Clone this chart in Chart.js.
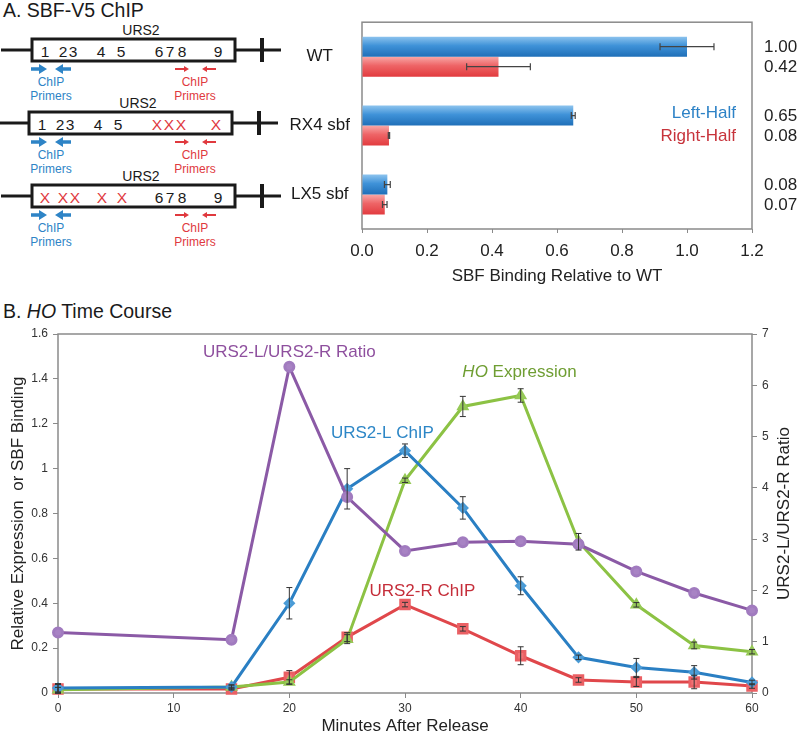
<!DOCTYPE html>
<html>
<head>
<meta charset="utf-8">
<script src="https://cdn.jsdelivr.net/npm/chart.js@4.4.1/dist/chart.umd.min.js"></script>
<style>
  html, body { margin: 0; padding: 0; background: #fff; }
  #page { position: relative; width: 800px; height: 735px; overflow: hidden; font-family: "Liberation Sans", Arial, sans-serif; color: #1a1a1a; }
  .panelTitle { position: absolute; left: 3px; font-size: 19.5px; line-height: 1; white-space: nowrap; }
  #diagram { position: absolute; left: 0; top: 0; }
  #barBox { position: absolute; left: 280px; top: 0; width: 520px; height: 290px; }
  #lineBox { position: absolute; left: 0; top: 320px; width: 800px; height: 415px; }
</style>
</head>
<body>
<div id="page">
  <div class="panelTitle" style="top:1px">A. SBF-V5 ChIP</div>
  <svg id="diagram" width="290" height="260" xmlns="http://www.w3.org/2000/svg"></svg>
  <div id="barBox"><canvas id="barChart"></canvas></div>
  <div class="panelTitle" style="top:302px">B. <i>HO</i> Time Course</div>
  <div id="lineBox"><canvas id="lineChart"></canvas></div>
</div>
<script>
// ---- panel A data
var strains = ['WT', 'RX4 sbf', 'LX5 sbf'];
var leftHalf = [1.00, 0.65, 0.078];
var leftHalfErr = [0.083, 0.006, 0.009];
var rightHalf = [0.42, 0.083, 0.07];
var rightHalfErr = [0.098, 0.002, 0.007];
var bindingTicks = [0, 0.2, 0.4, 0.6, 0.8, 1.0, 1.2];

// ---- panel B data
var minutes = [0, 15, 20, 25, 30, 35, 40, 45, 50, 55, 60];
var ratioLR = [1.18, 1.04, 6.36, 3.82, 2.77, 2.94, 2.96, 2.90, 2.37, 1.95, 1.61];
var urs2L = [0.022, 0.027, 0.40, 0.91, 1.08, 0.825, 0.478, 0.159, 0.114, 0.092, 0.047];
var urs2LErr = [0.02, 0.01, 0.07, 0.09, 0.03, 0.05, 0.04, 0.01, 0.04, 0.03, 0.01];
var urs2R = [0.018, 0.018, 0.07, 0.249, 0.394, 0.286, 0.166, 0.058, 0.049, 0.049, 0.031];
var urs2RErr = [0.02, 0.005, 0.03, 0.02, 0.01, 0.01, 0.04, 0.01, 0.02, 0.03, 0.01];
var hoExpr = [0.015, 0.027, 0.049, 0.24, 0.948, 1.277, 1.326, 0.674, 0.393, 0.212, 0.184];
var hoExprErr = [0.01, 0.005, 0.01, 0.02, 0.01, 0.045, 0.03, 0.037, 0.01, 0.015, 0.01];

var FONT = '"Liberation Sans", Arial, sans-serif';
Chart.defaults.font.family = FONT;
Chart.defaults.color = '#222';

var BLUE = '#2a7fc3', RED = '#e0474b', GREEN = '#8cc244', PURPLE = '#8b5aa6';
var AXIS_GRAY = '#8a8a8a';

// ---- schematic of URS2 (left part of panel A)
var svg = document.getElementById('diagram');
function el(name, attrs, text) {
    var e = document.createElementNS('http://www.w3.org/2000/svg', name);
    for (var k in attrs) e.setAttribute(k, attrs[k]);
    if (text) e.textContent = text;
    svg.appendChild(e);
    return e;
}
function arrow(x0, x1, y, shaft, head, headLen, color) {
    var dir = x1 > x0 ? 1 : -1;
    var hb = x1 - dir * headLen;
    var pts = [[x0, y - shaft / 2], [hb, y - shaft / 2], [hb, y - head], [x1, y], [hb, y + head], [hb, y + shaft / 2], [x0, y + shaft / 2]];
    el('polygon', {points: pts.map(function(p) { return p.join(','); }).join(' '), fill: color});
}
var siteBlack = '#1a1a1a', siteRed = '#e0393e', primerBlue = '#2e84c6', primerRed = '#e0393e';
var rows = [
    {dy: 0, dx: 0, sites: [['1', 45], ['2', 63], ['3', 73], ['4', 101], ['5', 121], ['6', 159], ['7', 170], ['8', 182], ['9', 218]]},
    {dy: 73, dx: -3, sites: [['1', 45], ['2', 63], ['3', 73], ['4', 101], ['5', 121], ['X', 160, 1], ['X', 172, 1], ['X', 184, 1], ['X', 219, 1]]},
    {dy: 146, dx: 0, sites: [['X', 45, 1], ['X', 63, 1], ['X', 75, 1], ['X', 102, 1], ['X', 122, 1], ['6', 159], ['7', 170], ['8', 182], ['9', 218]]}
];
rows.forEach(function(r) {
    var y = 50 + r.dy, dx = r.dx;
    el('text', {x: 141 + dx, y: y - 20, 'font-size': 14, 'text-anchor': 'middle', 'dominant-baseline': 'central', 'font-family': FONT, fill: siteBlack}, 'URS2');
    el('line', {x1: 1 + dx, y1: y, x2: 32 + dx, y2: y, stroke: siteBlack, 'stroke-width': 3});
    el('line', {x1: 235 + dx, y1: y, x2: 281 + dx, y2: y, stroke: siteBlack, 'stroke-width': 3});
    el('line', {x1: 262 + dx, y1: y - 12, x2: 262 + dx, y2: y + 12, stroke: siteBlack, 'stroke-width': 4});
    el('rect', {x: 32 + dx, y: y - 11, width: 203, height: 22, fill: '#fff', stroke: siteBlack, 'stroke-width': 3});
    r.sites.forEach(function(s) {
        el('text', {x: s[1] + dx, y: y + 1, 'font-size': 15.5, 'text-anchor': 'middle', 'dominant-baseline': 'central', 'font-family': FONT, fill: s[2] ? siteRed : siteBlack}, s[0]);
    });
    var ay = y + 19;
    arrow(31, 47, ay, 3.5, 5, 8, primerBlue);
    arrow(71, 55, ay, 3.5, 5, 8, primerBlue);
    arrow(175, 189, ay, 2, 3, 5, primerRed);
    arrow(216, 202, ay, 2, 3, 5, primerRed);
    [['ChIP', 32], ['Primers', 46]].forEach(function(t) {
        el('text', {x: 51, y: y + t[1], 'font-size': 12, 'text-anchor': 'middle', 'dominant-baseline': 'central', 'font-family': FONT, fill: primerBlue}, t[0]);
        el('text', {x: 195, y: y + t[1], 'font-size': 12, 'text-anchor': 'middle', 'dominant-baseline': 'central', 'font-family': FONT, fill: primerRed}, t[0]);
    });
});

// ---- shared plugins
var framePlugin = {
    id: 'frame',
    beforeDatasetsDraw: function(chart) {
        var a = chart.chartArea, c = chart.ctx;
        c.save();
        c.strokeStyle = AXIS_GRAY;
        c.lineWidth = 1.5;
        c.strokeRect(a.left, a.top, a.right - a.left, a.bottom - a.top);
        c.restore();
    }
};

function barGradient(light, mid, dark) {
    return function(ctx) {
        var chart = ctx.chart, ys = chart.scales.y;
        if (!ys || !chart.chartArea) return mid;
        var thick = ys.height / strains.length * 0.58 / 2;
        var center = ys.getPixelForValue(ctx.dataIndex);
        var top = ctx.datasetIndex === 0 ? center - thick : center;
        var g = chart.ctx.createLinearGradient(0, top, 0, top + thick);
        g.addColorStop(0, light);
        g.addColorStop(0.45, mid);
        g.addColorStop(1, dark);
        return g;
    };
}

var barExtras = {
    id: 'barExtras',
    afterDatasetsDraw: function(chart) {
        var c = chart.ctx, xs = chart.scales.x, ys = chart.scales.y, a = chart.chartArea;
        c.save();
        chart.data.datasets.forEach(function(ds, di) {
            var meta = chart.getDatasetMeta(di);
            meta.data.forEach(function(bar, i) {
                var v = ds.data[i], e = ds.errors[i];
                var x0 = xs.getPixelForValue(v - e), x1 = xs.getPixelForValue(v + e);
                c.strokeStyle = '#444';
                c.lineWidth = 1.2;
                c.beginPath();
                c.moveTo(x0, bar.y); c.lineTo(x1, bar.y);
                c.moveTo(x0, bar.y - 3.5); c.lineTo(x0, bar.y + 3.5);
                c.moveTo(x1, bar.y - 3.5); c.lineTo(x1, bar.y + 3.5);
                c.stroke();
                // value label at right of the frame
                c.fillStyle = '#222';
                c.font = '17px ' + FONT;
                c.textAlign = 'left';
                c.textBaseline = 'middle';
                c.fillText(v.toFixed(2), a.right + 12, bar.y + 1);
            });
        });
        // series names inside the plot
        var mid = ys.getPixelForValue(1);
        c.font = '17px ' + FONT;
        c.textAlign = 'right';
        c.fillStyle = '#2d82c6';
        c.fillText(chart.data.datasets[0].label, a.right - 16, mid - 12);
        c.fillStyle = '#c7333b';
        c.fillText(chart.data.datasets[1].label, a.right - 16, mid + 11);
        c.restore();
    }
};

var barChart = new Chart(document.getElementById('barChart'), {
    type: 'bar',
    data: {
        labels: strains,
        datasets: [{
            label: 'Left-Half',
            data: leftHalf,
            errors: leftHalfErr,
            backgroundColor: barGradient('#8cc3ee', '#3f92d8', '#1f6fb8')
        }, {
            label: 'Right-Half',
            data: rightHalf,
            errors: rightHalfErr,
            backgroundColor: barGradient('#f8a7a6', '#ee6466', '#e23b3f')
        }]
    },
    options: {
        indexAxis: 'y',
        responsive: true,
        maintainAspectRatio: false,
        animation: false,
        categoryPercentage: 0.58,
        barPercentage: 1.0,
        layout: {padding: {top: 13, right: 48, left: 0, bottom: 0}},
        plugins: {legend: {display: false}, tooltip: {enabled: false}},
        scales: {
            x: {
                type: 'linear',
                min: 0,
                max: 1.2,
                afterBuildTicks: function(s) { s.ticks = bindingTicks.map(function(v) { return {value: v}; }); },
                afterFit: function(s) { s.height = 61; },
                grid: {drawOnChartArea: false, drawTicks: true, tickLength: 4, color: AXIS_GRAY},
                border: {display: false},
                ticks: {
                    padding: 8,
                    color: '#222',
                    font: {size: 17},
                    callback: function(v) { return v.toFixed(1); }
                },
                title: {display: true, text: 'SBF Binding Relative to WT', font: {size: 17}, color: '#222', padding: {top: 0, bottom: 3}}
            },
            y: {
                afterFit: function(s) { s.width = 82; },
                grid: {display: false, drawTicks: false},
                border: {display: false},
                ticks: {crossAlign: 'center', padding: 12, color: '#1a1a1a', font: {size: 17}}
            }
        }
    },
    plugins: [framePlugin, barExtras]
});

// ---- panel B
var notes = [
    {parts: [['URS2-L/URS2-R Ratio', '']], x: 20, y: 1.517, color: '#8e4f9e'},
    {parts: [['URS2-L ChIP', '']], x: 28.05, y: 1.157, color: '#2c86c6'},
    {parts: [['HO', 'italic '], [' Expression', '']], x: 39.9, y: 1.428, color: '#6f9e33'},
    {parts: [['URS2-R ChIP', '']], x: 31.5, y: 0.455, color: '#c52e3a'}
];

var lineExtras = {
    id: 'lineExtras',
    afterDatasetsDraw: function(chart) {
        var c = chart.ctx, ys = chart.scales.y, a = chart.chartArea;
        c.save();
        // error bars
        chart.data.datasets.forEach(function(ds, di) {
            if (!ds.errors) return;
            var meta = chart.getDatasetMeta(di);
            meta.data.forEach(function(pt, i) {
                var v = ds.data[i], e = ds.errors[i];
                var y0 = ys.getPixelForValue(v - e), y1 = ys.getPixelForValue(v + e);
                c.strokeStyle = '#333';
                c.lineWidth = 1;
                c.beginPath();
                c.moveTo(pt.x, y0); c.lineTo(pt.x, y1);
                c.moveTo(pt.x - 3, y0); c.lineTo(pt.x + 3, y0);
                c.moveTo(pt.x - 3, y1); c.lineTo(pt.x + 3, y1);
                c.stroke();
            });
        });
        // series annotations
        var xs = chart.scales.x;
        c.textBaseline = 'middle';
        c.textAlign = 'left';
        notes.forEach(function(n) {
            var w = 0;
            n.parts.forEach(function(p) { c.font = p[1] + '17px ' + FONT; w += c.measureText(p[0]).width; });
            var x = xs.getPixelForValue(n.x) - w / 2, y = ys.getPixelForValue(n.y);
            c.fillStyle = n.color;
            n.parts.forEach(function(p) {
                c.font = p[1] + '17px ' + FONT;
                c.fillText(p[0], x, y);
                x += c.measureText(p[0]).width;
            });
        });
        // right axis title, reading upward
        c.translate(784, (a.top + a.bottom) / 2);
        c.rotate(-Math.PI / 2);
        c.textAlign = 'center';
        c.fillStyle = '#222';
        c.font = '17px ' + FONT;
        c.fillText('URS2-L/URS2-R Ratio', 0, 0);
        c.restore();
    }
};

var lineChart = new Chart(document.getElementById('lineChart'), {
    type: 'line',
    data: {
        labels: minutes,
        datasets: [{
            label: 'URS2-L/URS2-R Ratio',
            data: ratioLR,
            yAxisID: 'y1',
            borderColor: PURPLE,
            backgroundColor: '#a67fc2',
            pointBackgroundColor: '#a883c4',
            pointBorderColor: '#a17bbf',
            pointStyle: 'circle',
            pointRadius: 4.5,
            borderWidth: 3,
            clip: false
        }, {
            label: 'URS2-L ChIP',
            data: urs2L,
            errors: urs2LErr,
            yAxisID: 'y',
            borderColor: BLUE,
            pointBackgroundColor: '#5aa8df',
            pointBorderColor: '#4a9bd6',
            pointStyle: 'rectRot',
            pointRadius: 4,
            borderWidth: 3,
            clip: false
        }, {
            label: 'HO Expression',
            data: hoExpr,
            errors: hoExprErr,
            yAxisID: 'y',
            borderColor: GREEN,
            pointBackgroundColor: '#a3d466',
            pointBorderColor: '#96c957',
            pointStyle: 'triangle',
            pointRadius: 4.5,
            borderWidth: 3,
            clip: false
        }, {
            label: 'URS2-R ChIP',
            data: urs2R,
            errors: urs2RErr,
            yAxisID: 'y',
            borderColor: RED,
            pointBackgroundColor: '#f27275',
            pointBorderColor: '#ea6064',
            pointStyle: 'rect',
            pointRadius: 6,
            borderWidth: 3,
            clip: false
        }]
    },
    options: {
        responsive: true,
        maintainAspectRatio: false,
        animation: false,
        layout: {padding: {top: 14, right: 0, left: 0, bottom: 0}},
        plugins: {legend: {display: false}, tooltip: {enabled: false}},
        elements: {line: {tension: 0}},
        scales: {
            x: {
                type: 'linear',
                min: 0,
                max: 60,
                afterFit: function(s) { s.height = 42; },
                grid: {drawOnChartArea: false, tickLength: 5, color: AXIS_GRAY},
                border: {display: false},
                ticks: {stepSize: 10, padding: 3, color: '#333', font: {size: 12}},
                title: {display: true, text: 'Minutes After Release', font: {size: 17, lineHeight: 1}, color: '#222', padding: {top: 0, bottom: 0}}
            },
            y: {
                position: 'left',
                min: 0,
                max: 1.6,
                afterFit: function(s) { s.width = 58; },
                grid: {drawOnChartArea: false, tickLength: 5, color: AXIS_GRAY},
                border: {display: false},
                ticks: {
                    stepSize: 0.2,
                    padding: 5,
                    color: '#333',
                    font: {size: 12},
                    callback: function(v) { return String(Math.round(v * 10) / 10); }
                },
                title: {display: true, text: 'Relative Expression  or SBF Binding', font: {size: 17}, color: '#222', padding: {top: 8, bottom: 0}}
            },
            y1: {
                position: 'right',
                min: 0,
                max: 7,
                afterFit: function(s) { s.width = 48; },
                grid: {drawOnChartArea: false, tickLength: 5, color: AXIS_GRAY},
                border: {display: false},
                ticks: {stepSize: 1, padding: 5, color: '#333', font: {size: 12}}
            }
        }
    },
    plugins: [framePlugin, lineExtras]
});
</script>
</body>
</html>
